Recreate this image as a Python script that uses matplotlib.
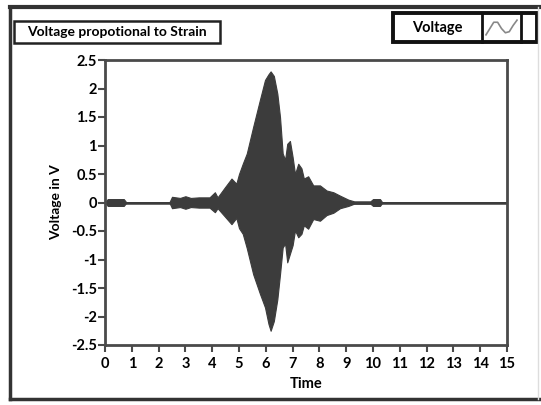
import matplotlib.pyplot as plt
from matplotlib.patches import Rectangle
from matplotlib.lines import Line2D

# envelope of the strain signal
time_pts = [0.0, 0.1, 0.7, 0.8, 2.4, 2.5, 2.8, 3.0, 3.2, 3.5, 3.9, 4.1, 4.2, 4.48, 4.72,
            4.9, 5.0, 5.14, 5.29, 5.53, 5.78, 5.97, 6.1, 6.18, 6.3, 6.43, 6.53, 6.63,
            6.72, 6.8, 6.9, 7.0, 7.09, 7.21, 7.33, 7.42, 7.58, 7.77, 8.02, 8.27, 8.52,
            8.77, 9.08, 9.3, 9.9, 10.0, 10.26, 10.35, 15.0]
upper_env = [0.0, 0.06, 0.06, 0.0, 0.0, 0.1, 0.08, 0.11, 0.08, 0.09, 0.09, 0.18, 0.09, 0.27, 0.42,
             0.33, 0.5, 0.68, 0.86, 1.33, 1.8, 2.15, 2.25, 2.3, 2.22, 1.91, 1.5, 0.86,
             0.75, 1.03, 1.08, 0.8, 0.5, 0.68, 0.6, 0.42, 0.46, 0.3, 0.3, 0.21, 0.18,
             0.12, 0.05, 0.02, 0.02, 0.06, 0.06, 0.0, 0.0]
lower_env = [0.0, -0.06, -0.06, 0.0, 0.0, -0.1, -0.08, -0.11, -0.08, -0.09, -0.09, -0.17, -0.1, -0.25, -0.38,
             -0.27, -0.45, -0.55, -0.8, -1.26, -1.6, -1.84, -2.13, -2.25, -2.08, -1.7, -1.26, -0.79,
             -0.72, -1.05, -0.9, -0.75, -0.49, -0.61, -0.55, -0.4, -0.46, -0.29, -0.32, -0.22, -0.18,
             -0.1, -0.06, -0.02, -0.02, -0.06, -0.06, 0.0, 0.0]

x_ticks = list(range(0, 16))
y_ticks = [-2.5, -2, -1.5, -1, -0.5, 0, 0.5, 1, 1.5, 2, 2.5]
y_tick_labels = ["-2.5", "-2", "-1.5", "-1", "-0.5", "0", "0.5", "1", "1.5", "2", "2.5"]

FONT = "Lato"
DARK = "#3c3c3c"

fig = plt.figure(figsize=(5.41, 4.05), dpi=100)
W, H = 541.0, 405.0

def fx(px):
    return px / W

def fy(py):
    return 1 - py / H

# outer panel frame
fig.add_artist(Line2D([fx(10), fx(10)], [fy(7), fy(399)], color="#333333", lw=2.5))
fig.add_artist(Line2D([fx(10), fx(541)], [fy(7), fy(7)], color="#333333", lw=3))
fig.add_artist(Line2D([fx(10), fx(541)], [fy(399), fy(399)], color="#333333", lw=2.5))
fig.add_artist(Line2D([fx(538), fx(538)], [fy(7), fy(399)], color="#dddddd", lw=1))

# title box
fig.add_artist(Rectangle((fx(14), fy(43)), fx(206), 22 / H, fill=False, ec="#222222", lw=1.8))
fig.text(fx(117), fy(32), "Voltage propotional to Strain", ha="center", va="center",
         fontsize=10, fontweight="bold", family=FONT)

# legend box
fig.add_artist(Rectangle((fx(393), fy(42)), fx(144), 29 / H, fill=False, ec="#111111", lw=2.8))
fig.add_artist(Line2D([fx(482), fx(482)], [fy(13), fy(42)], color="#111111", lw=2))
fig.add_artist(Line2D([fx(521), fx(521)], [fy(13), fy(42)], color="#111111", lw=2))
fig.text(fx(437), fy(28), "Voltage", ha="center", va="center",
         fontsize=10.5, fontweight="bold", family=FONT)
icon = fig.add_axes([fx(485), fy(38), fx(33), 21 / H])
icon.plot([0, 0.8, 1.6, 2.4, 3.2, 4.0, 4.8, 5.6, 6.4],
          [0.15, 0.45, 0.75, 0.75, 0.45, 0.25, 0.3, 0.6, 0.85], color="#888888", lw=1.2)
icon.set_xlim(-0.2, 6.6)
icon.set_ylim(0, 1)
icon.axis("off")

ax = fig.add_axes([fx(105), fy(345), fx(402), 285 / H])
ax.fill_between(time_pts, lower_env, upper_env, color=DARK, lw=0.8, edgecolor=DARK)
ax.plot([0, 15], [0, 0], color=DARK, lw=1.8)

ax.set_xlim(0, 15)
ax.set_ylim(-2.5, 2.5)
ax.set_xticks(x_ticks)
ax.set_xticklabels([str(t) for t in x_ticks])
ax.set_yticks(y_ticks)
ax.set_yticklabels(y_tick_labels)
for s in ax.spines.values():
    s.set_color("#4a4a4a")
    s.set_linewidth(2)
ax.tick_params(axis="both", length=5, width=1.5, color="#4a4a4a", labelsize=10.5)
ax.tick_params(axis="x", pad=4)
ax.tick_params(axis="y", pad=1)
for lab in ax.get_xticklabels() + ax.get_yticklabels():
    lab.set_fontweight("bold")
    lab.set_family(FONT)

ax.set_xlabel("Time", fontsize=10.5, fontweight="bold", family=FONT, labelpad=4)
ax.set_ylabel("Voltage in V", fontsize=10, fontweight="bold", family=FONT, labelpad=6)

fig.savefig("out.png", dpi=100)
